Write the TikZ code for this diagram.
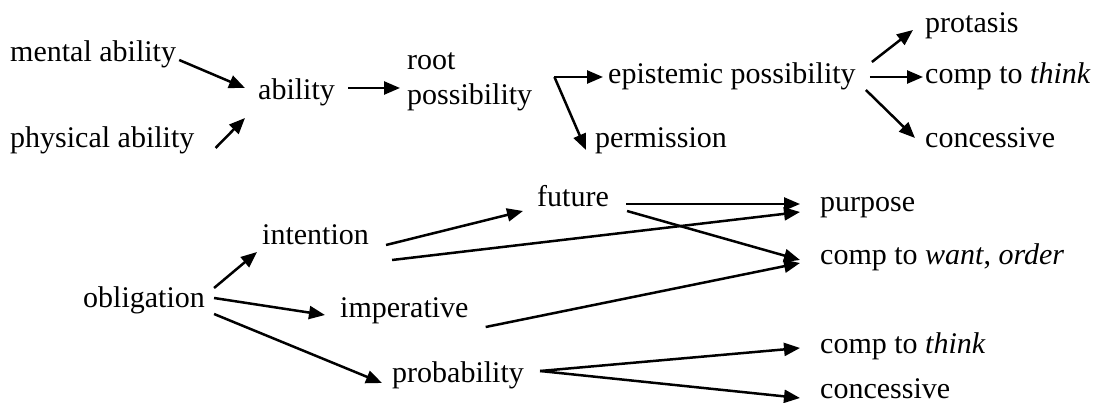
\documentclass[tikz,border=0pt]{standalone}
\usepackage{fontspec}
\setmainfont{Liberation Serif}
\usetikzlibrary{arrows.meta}

\tikzset{
  lbl/.style={anchor=base west, inner sep=0pt, font=\fontsize{30}{35}\selectfont},
  arr/.style={line width=2.5pt, -{Triangle[length=16pt,width=13pt]}},
}

\begin{document}
\begin{tikzpicture}[x=1pt,y=-1pt]
  \useasboundingbox (0,0) rectangle (1102,403);

  \node[lbl] (mental) at (10,62) {mental ability};
  \node[lbl] (physical) at (10,148) {physical ability};
  \node[lbl] (ability) at (258,100) {ability};
  \node[lbl, align=left] (root) at (407,105) {root\\possibility};
  \node[lbl] (epist) at (608,84) {epistemic possibility};
  \node[lbl] (permis) at (595,148) {permission};
  \node[lbl] (protasis) at (925,33) {protasis};
  \node[lbl] (thinka) at (925,84) {comp to \textit{think}};
  \node[lbl] (concessa) at (925,148) {concessive};

  \node[lbl] (oblig) at (83,307) {obligation};
  \node[lbl] (intent) at (262,245) {intention};
  \node[lbl] (imper) at (340,317) {imperative};
  \node[lbl] (prob) at (392,382) {probability};
  \node[lbl] (future) at (537,207) {future};
  \node[lbl] (purpose) at (820,212) {purpose};
  \node[lbl] (want) at (820,264) {comp to \textit{want}, \textit{order}};
  \node[lbl] (thinkb) at (820,353) {comp to \textit{think}};
  \node[lbl] (concessb) at (820,398) {concessive};

  \coordinate (fork) at ([shift={(22,-28)}]root.base east);

  \draw[arr] ([shift={(3,-2)}]mental.base east) -- ([shift={(-13,-12)}]ability.base west);
  \draw[arr] ([shift={(21,0)}]physical.base east) -- ([shift={(-13,18)}]ability.base west);
  \draw[arr] ([shift={(13,-12)}]ability.base east) -- ([shift={(-7,-17)}]root.base west);
  \draw[arr] (fork) -- ([shift={(-5,-7)}]epist.base west);
  \draw[arr] (fork) -- ([shift={(-9,2)}]permis.base west);
  \draw[arr] ([shift={(16,-22)}]epist.base east) -- ([shift={(-12,-3)}]protasis.base west);
  \draw[arr] ([shift={(14,-7)}]epist.base east) -- ([shift={(-2,-7)}]thinka.base west);
  \draw[arr] ([shift={(10,6)}]epist.base east) -- ([shift={(-10,-10)}]concessa.base west);

  \draw[arr] ([shift={(9,-19)}]oblig.base east) -- ([shift={(-5,7)}]intent.base west);
  \draw[arr] ([shift={(9,-9)}]oblig.base east) -- ([shift={(-15,-2)}]imper.base west);
  \draw[arr] ([shift={(9,7)}]oblig.base east) -- ([shift={(-10,1)}]prob.base west);
  \draw[arr] ([shift={(17,0)}]intent.base east) -- ([shift={(-14,4)}]future.base west);
  \draw[arr] ([shift={(23,15)}]intent.base east) -- ([shift={(-20,0)}]purpose.base west);
  \draw[arr] ([shift={(17,-3)}]future.base east) -- ([shift={(-20,-8)}]purpose.base west);
  \draw[arr] ([shift={(18,4)}]future.base east) -- ([shift={(-20,-4)}]want.base west);
  \draw[arr] ([shift={(17,10)}]imper.base east) -- ([shift={(-20,-1)}]want.base west);
  \draw[arr] ([shift={(16,-11)}]prob.base east) -- ([shift={(-20,-5)}]thinkb.base west);
  \draw[arr] ([shift={(16,-11)}]prob.base east) -- ([shift={(-20,0)}]concessb.base west);
\end{tikzpicture}
\end{document}
